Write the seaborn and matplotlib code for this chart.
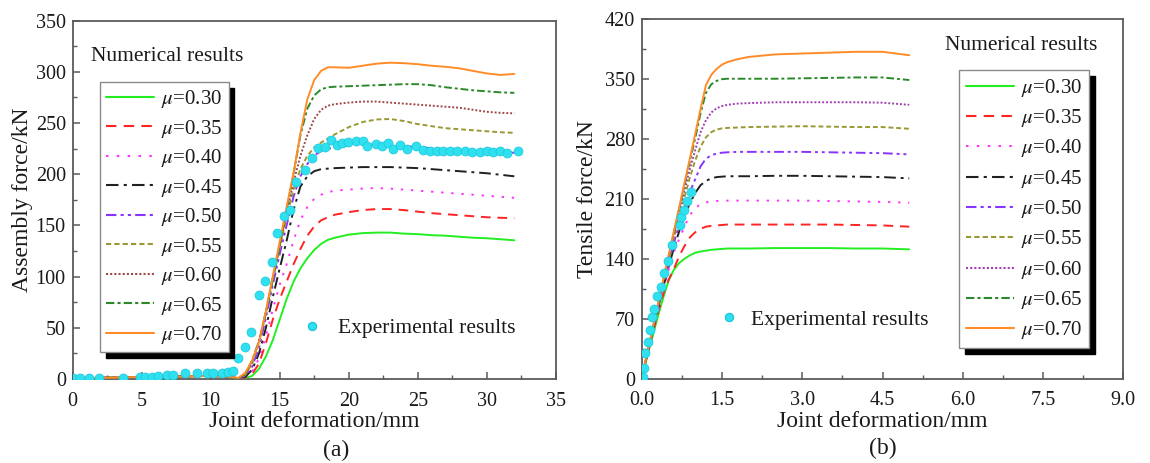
import matplotlib
matplotlib.use("Agg")
import matplotlib.pyplot as plt
import seaborn as sns
from matplotlib.lines import Line2D
from matplotlib.ticker import MultipleLocator, FormatStrFormatter

# ---------------- data ----------------
mu_labels = ["0.30", "0.35", "0.40", "0.45", "0.50", "0.55", "0.60", "0.65", "0.70"]

# (a) assembly force vs joint deformation
x_a = [0, 5, 10, 11.5, 12, 12.5, 13, 13.5, 14, 14.5, 15, 15.5, 16, 16.5, 17, 17.5,
       18, 18.5, 19, 20, 21, 22, 23, 24, 25, 26, 27, 28, 29, 30, 31, 32]
a_mu30 = [0.5, 2, 3, 2, 0.5, 1, 3, 10, 22, 38, 58, 78, 95, 108, 118, 126, 132, 136, 138, 141,
          142.5, 143, 143, 142, 141.5, 140.5, 140, 139, 138, 137.5, 136.5, 135.5]
a_mu35 = [0.5, 2, 3, 2, 0.5, 1.5, 5, 15, 35, 58, 78, 95, 112, 127, 140, 149, 155, 158, 160.5, 163,
          165, 166, 166, 165, 163.5, 162, 161, 160, 159, 158, 157.5, 157]
a_mu40 = [0.5, 2, 3, 2, 0.5, 2, 7, 20, 42, 68, 92, 112, 135, 155, 168, 176, 180, 182.5, 184, 185,
          186, 186.5, 186, 185, 184, 183, 182, 181, 180, 179, 178, 177]
a_mu45 = [0.5, 2, 3, 2, 0.5, 2, 9, 25, 50, 80, 108, 135, 165, 188, 198, 203, 205, 205.5, 206, 206.5,
          207, 207, 207, 206.5, 206, 205, 204, 203, 202, 201, 199.5, 198]
a_mu50 = [0.5, 2, 3, 2, 0.5, 3, 12, 30, 60, 92, 122, 150, 178, 198, 210, 218, 223, 225, 226, 228,
          229, 229, 228.5, 227.5, 226.5, 225.5, 224.5, 223.5, 223, 222, 221.5, 221]
a_mu55 = [0.5, 2, 3, 2, 0.5, 4, 15, 35, 65, 98, 128, 158, 185, 205, 218, 226, 231, 235, 239, 246,
          251, 253.5, 254, 252, 249, 247, 245, 244, 243, 242, 241, 240.5]
a_mu60 = [0.5, 2, 3, 2, 0.5, 5, 17, 37, 66, 100, 130, 162, 192, 218, 238, 254, 263, 267, 268.5, 270,
          271, 271, 270, 269, 268, 267, 266, 265, 263, 261, 260, 259.5]
a_mu65 = [0.5, 2, 3, 2, 0.5, 5, 18, 37, 64, 97, 130, 165, 200, 238, 264, 277, 283, 285, 285.5, 286,
          286.5, 287, 287.5, 288, 288, 287, 285, 283.5, 282, 281, 280, 279.5]
a_mu70 = [0.5, 2, 3, 2, 1, 6, 18, 36, 66, 100, 134, 168, 201, 240, 273, 292, 301, 304.5, 304.5, 304,
          306, 308, 309, 308.5, 307.5, 306, 305, 303.5, 301, 298.5, 297, 298]

exp_a_x = [0, 0.53, 1.21, 1.93, 3.67, 4.88, 5.24, 5.72, 6.21, 6.81, 7.29, 8.14, 8.99, 9.71, 10.19,
           10.80, 11.28, 11.64, 12.00, 12.49, 12.90, 13.53, 13.94, 14.43, 14.83, 15.31, 15.75,
           16.18, 16.84, 17.37, 17.81, 18.29, 18.70, 19.13, 19.49, 19.98, 20.53, 21.01, 21.30,
           21.98, 22.39, 22.87, 23.24, 23.72, 24.20, 24.88, 25.41, 25.89, 26.38, 26.86, 27.34,
           27.83, 28.43, 28.91, 29.52, 30.00, 30.48, 30.97, 31.45, 32.30]
exp_a_y = [1.3, 1.3, 1.3, 1.3, 1.3, 2.3, 2.3, 2.3, 2.9, 3.9, 3.9, 5.5, 6.2, 6.2, 5.5,
           6.2, 7.2, 8.1, 20.9, 31.6, 45.6, 82.1, 96.1, 114.7, 142.4, 159.4, 165.2,
           192.0, 203.7, 215.7, 225.5, 226.2, 233.0, 228.8, 230.4, 231.1, 232.0, 232.0, 227.8,
           229.8, 227.2, 230.4, 224.9, 228.1, 224.9, 227.8, 223.9, 223.2, 222.3, 222.3, 222.3,
           223.2, 222.3, 221.3, 221.3, 222.3, 221.3, 222.3, 220.6, 222.3]

# (b) tensile force vs joint deformation
x_b = [0, 0.1, 0.2, 0.3, 0.4, 0.5, 0.6, 0.7, 0.8, 0.9, 1.0, 1.1, 1.2, 1.3, 1.4, 1.5, 1.6,
       1.8, 2.0, 2.5, 3.0, 3.5, 4.0, 4.5, 5.0]
b_mu30 = [0, 25, 48, 72, 94, 114, 127, 135, 140, 144, 147, 148.5, 149.5, 150.5, 151, 151.5, 152,
          152, 152, 152.5, 152.5, 152.5, 152, 152, 151]
b_mu35 = [0, 26, 52, 76, 98, 115, 128, 143, 155, 165, 171, 175, 177.5, 178.5, 179, 179.5, 180,
          180, 180, 180, 180, 180, 179.5, 179, 177.5]
b_mu40 = [0, 27, 54, 79, 103, 126, 148, 163, 178, 191, 199, 204, 206, 207, 207.5, 208, 208,
          208, 208, 208, 208, 207.5, 207, 206.5, 205.5]
b_mu45 = [0, 27.5, 55, 81, 106, 130, 152, 172, 190, 205, 217, 226, 231, 234, 235.5, 236, 236.5,
          236.5, 236.5, 237, 237, 236.5, 236, 235.5, 234]
b_mu50 = [0, 27.5, 55, 82, 108, 134, 158, 180, 200, 218, 233, 248, 257, 261, 263, 264, 264.5,
          265, 265, 265, 265, 264.5, 264, 263.5, 262]
b_mu55 = [0, 28, 56, 83, 110, 137, 164, 189, 212, 235, 255, 271, 282, 288, 291, 292.5, 293,
          293.5, 294, 294.5, 295, 294.5, 294, 294, 292]
b_mu60 = [0, 28, 56, 84, 112, 140, 167, 194, 220, 245, 267, 288, 302, 311, 316, 318.5, 320,
          321.5, 322, 323, 323, 323, 323, 322.5, 320]
b_mu65 = [0, 28.5, 57, 85, 114, 142, 170, 198, 226, 254, 281, 310, 334, 344, 348, 350, 350.5,
          350.5, 350.5, 350.5, 351, 351.5, 352, 352, 349]
b_mu70 = [0, 29, 57, 86, 115, 143, 172, 200, 229, 257, 286, 315, 343, 355, 362, 367, 370,
          373.5, 376, 379, 380, 381, 382, 382, 378]

exp_b_x = [0.02, 0.045, 0.07, 0.118, 0.149, 0.193, 0.230, 0.292, 0.355, 0.417, 0.492, 0.572,
           0.710, 0.740, 0.791, 0.841, 0.916]
exp_b_y = [2, 12, 30, 43, 57, 72, 81, 96, 107, 123, 137, 156, 180, 189, 197, 207, 218]

series_a = [a_mu30, a_mu35, a_mu40, a_mu45, a_mu50, a_mu55, a_mu60, a_mu65, a_mu70]
series_b = [b_mu30, b_mu35, b_mu40, b_mu45, b_mu50, b_mu55, b_mu60, b_mu65, b_mu70]

# ---------------- styles ----------------
line_styles = ["-", (0, (5, 3.5)), (0, (1.2, 4)), (0, (6, 2.5, 1.5, 2.5)),
               (0, (5, 2, 1.5, 2, 1.5, 2)), (0, (2.5, 1.5)), (0, (1, 1)),
               (0, (4, 1.5, 1.5, 1.5)), "-"]
colors_a = ["#22ee22", "#ff2424", "#ff33ff", "#202020", "#8833ff", "#999933",
            "#a04848", "#2a8a2a", "#ff8c28"]
colors_b = ["#22ee22", "#ff2424", "#ff33ff", "#202020", "#8833ff", "#999933",
            "#a040b0", "#2a8a2a", "#ff8c28"]
exp_color = "#2fe0ee"

sns.set_theme(style="ticks")
plt.rcParams["font.family"] = ["Liberation Serif", "DejaVu Serif"]
plt.rcParams["mathtext.fontset"] = "stix"

W, H = 1150, 463
fig = plt.figure(figsize=(W / 100, H / 100), dpi=100)
ax_a = fig.add_axes([72.7 / W, 1 - 379 / H, 483 / W, 358.3 / H])
ax_b = fig.add_axes([641.7 / W, 1 - 378.5 / H, 481.6 / W, 359.2 / H])

FS_TICK = 14.5
FS_LAB = 17
FS_LEG = 15
FS_TXT = 15.5
TXT = "#1a1a1a"


def draw_panel(ax, xs, series, colors, ex, ey):
    for vals, c, ls in zip(series, colors, line_styles):
        sns.lineplot(x=xs, y=vals, ax=ax, color=c, linestyle=ls, lw=1.4,
                     legend=False, estimator=None, sort=False, zorder=3)
    sns.scatterplot(x=ex, y=ey, ax=ax, s=42, color=exp_color, edgecolor="#1cc6dc",
                    linewidth=0.5, zorder=5, legend=False)


draw_panel(ax_a, x_a, series_a, colors_a, exp_a_x, exp_a_y)
draw_panel(ax_b, x_b, series_b, colors_b, exp_b_x, exp_b_y)


def style_axes(ax, xlim, xmaj, ylim, ymaj):
    ax.set_xlim(*xlim)
    ax.set_ylim(*ylim)
    ax.xaxis.set_major_locator(MultipleLocator(xmaj))
    ax.xaxis.set_minor_locator(MultipleLocator(xmaj / 2))
    ax.yaxis.set_major_locator(MultipleLocator(ymaj))
    ax.yaxis.set_minor_locator(MultipleLocator(ymaj / 2))
    for sp in ax.spines.values():
        sp.set_color("#5a5a5a")
        sp.set_linewidth(1.3)
        sp.set_visible(True)
    ax.tick_params(which="both", direction="in", colors="#5a5a5a", labelcolor=TXT,
                   top=False, right=False, labelsize=FS_TICK)
    ax.tick_params(which="major", length=5, width=1.1)
    ax.tick_params(which="minor", length=3, width=1.0)
    ax.tick_params(axis="y", pad=5)
    ax.tick_params(axis="x", pad=9)


style_axes(ax_a, (0, 35), 5, (0, 350), 50)
style_axes(ax_b, (0, 9), 1.5, (0, 420), 70)
ax_b.xaxis.set_major_formatter(FormatStrFormatter("%.1f"))

ax_a.set_xlabel("Joint deformation/mm", fontsize=FS_LAB, color=TXT)
ax_a.set_ylabel("Assembly force/kN", fontsize=FS_LAB, color=TXT)
ax_b.set_xlabel("Joint deformation/mm", fontsize=FS_LAB, color=TXT)
ax_b.set_ylabel("Tensile force/kN", fontsize=FS_LAB, color=TXT)
ax_a.xaxis.set_label_coords(0.5, -0.088)
ax_b.xaxis.set_label_coords(0.5, -0.091)
ax_a.yaxis.set_label_coords(-0.082, 0.5)
ax_b.yaxis.set_label_coords(-0.091, 0.5)


def add_legends(ax, colors, anchor, text_pos, exp_anchor, exp_pad, spacing, bpad):
    handles = [Line2D([], [], color=c, linestyle=ls, lw=1.5)
               for c, ls in zip(colors, line_styles)]
    labels = [r"$\mu$=" + m for m in mu_labels]
    leg = ax.legend(handles, labels, loc="upper left", bbox_to_anchor=anchor,
                    borderaxespad=0, frameon=True, fancybox=False, edgecolor="#8a8a8a",
                    facecolor="white", framealpha=1, fontsize=FS_LEG, handlelength=2.3,
                    handletextpad=0.33, labelspacing=spacing, borderpad=bpad,
                    shadow={"ox": 4.3, "oy": -4.0, "color": "black", "alpha": 1})
    leg.get_frame().set_linewidth(1.0)
    for t in leg.get_texts():
        t.set_color(TXT)
    leg.set_zorder(6)
    ax.add_artist(leg)
    ax.text(text_pos[0], text_pos[1], "Numerical results", transform=ax.transAxes,
            ha="left", va="center", fontsize=FS_TXT, color=TXT)
    eh = Line2D([], [], marker="o", ls="", color=exp_color, markeredgecolor="#1cc6dc",
                markersize=5.8)
    leg2 = ax.legend([eh], ["Experimental results"], loc="center left",
                     bbox_to_anchor=exp_anchor, frameon=False, handlelength=1,
                     handletextpad=exp_pad, borderpad=0, borderaxespad=0, fontsize=FS_TXT)
    for t in leg2.get_texts():
        t.set_color(TXT)
    leg2.set_zorder(6)


add_legends(ax_a, colors_a, (0.0565, 0.829), (0.038, 0.899), (0.4738, 0.1415), 0.71,
            0.36, 0.3)
add_legends(ax_b, colors_b, (0.659, 0.859), (0.630, 0.9265), (0.1596, 0.1629), 0.51,
            0.4, 0.33)

fig.text(336 / W, 1 - 450 / H, "(a)", ha="center", va="center", fontsize=FS_LAB, color=TXT)
fig.text(883 / W, 1 - 448 / H, "(b)", ha="center", va="center", fontsize=FS_LAB, color=TXT)

fig.savefig("out.png", dpi=100, facecolor="white")
